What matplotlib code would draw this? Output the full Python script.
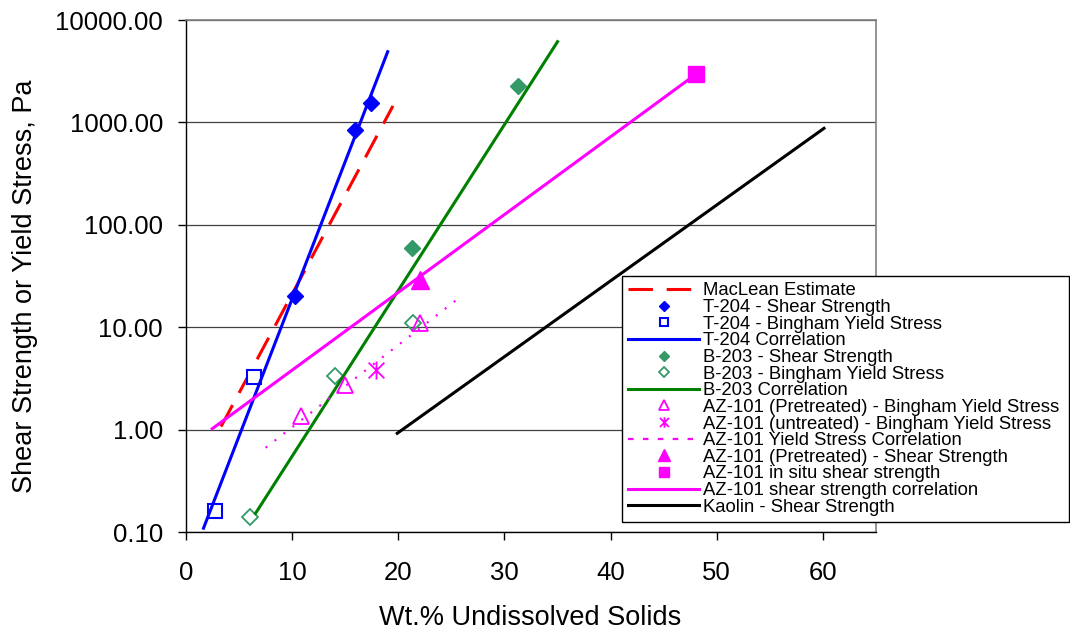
import matplotlib
matplotlib.use("Agg")
import matplotlib.pyplot as plt
from matplotlib.lines import Line2D
from matplotlib.path import Path
from matplotlib.ticker import FixedLocator, FuncFormatter, NullLocator

plt.rcParams['font.family'] = ['Liberation Sans', 'DejaVu Sans']

# ---------------- data ----------------
maclean_x = [3.3, 19.5]
maclean_y = [1.07, 1450]

t204_ss_x = [10.3, 15.9, 17.4]
t204_ss_y = [20, 843, 1550]
t204_by_x = [2.75, 6.45]
t204_by_y = [0.16, 3.3]
t204_corr_x = [1.65, 19.0]
t204_corr_y = [0.109, 4900]

b203_ss_x = [21.3, 31.3]
b203_ss_y = [60, 2260]
b203_by_x = [6.0, 14.0, 21.4]
b203_by_y = [0.14, 3.33, 11.1]
b203_corr_x = [6.55, 35.0]
b203_corr_y = [0.152, 6140]

az_pre_by_x = [10.8, 15.0, 22.0]
az_pre_by_y = [1.36, 2.73, 10.9]
az_un_by_x = [17.9]
az_un_by_y = [3.8]
az_ys_corr_x = [7.5, 26.0]
az_ys_corr_y = [0.665, 20.3]
az_pre_ss_x = [22.0]
az_pre_ss_y = [29]
az_insitu_x = [48.0]
az_insitu_y = [3000]
az_ss_corr_x = [2.47, 47.5]
az_ss_corr_y = [1.02, 2690]

kaolin_x = [19.9, 60.1]
kaolin_y = [0.92, 875]

y_ticks = [0.1, 1, 10, 100, 1000, 10000]
x_ticks = [0, 10, 20, 30, 40, 50, 60]

labels = [
    "MacLean Estimate",
    "T-204 - Shear Strength",
    "T-204 - Bingham Yield Stress",
    "T-204 Correlation",
    "B-203 - Shear Strength",
    "B-203 - Bingham Yield Stress",
    "B-203 Correlation",
    "AZ-101 (Pretreated) - Bingham Yield Stress",
    "AZ-101 (untreated) - Bingham Yield Stress",
    "AZ-101 Yield Stress Correlation",
    "AZ-101 (Pretreated) - Shear Strength",
    "AZ-101 in situ shear strength",
    "AZ-101 shear strength correlation",
    "Kaolin - Shear Strength",
]

# ---------------- style ----------------
BLUE = '#0000FF'
RED = '#FF0000'
GREEN = '#008000'
SEA = '#339966'
MAG = '#FF00FF'
BLACK = '#000000'

asterisk = Path([(-1, -1), (1, 1), (-1, 1), (1, -1), (0, -1.15), (0, 1.15)],
                [Path.MOVETO, Path.LINETO, Path.MOVETO, Path.LINETO, Path.MOVETO, Path.LINETO])

fig = plt.figure(figsize=(10.70, 6.29), dpi=100)
ax = fig.add_axes([186 / 1070, 1 - 532 / 629, 690 / 1070, 512 / 629])

LW = 2.2
ax.plot(maclean_x, maclean_y, color=RED, lw=LW, dashes=(8, 4.5), solid_capstyle='butt')
ax.plot(t204_ss_x, t204_ss_y, ls='none', marker='D', ms=8, mfc=BLUE, mec=BLUE, mew=1)
ax.plot(t204_by_x, t204_by_y, ls='none', marker='s', ms=10, mfc='white', mec=BLUE, mew=1.5)
ax.plot(t204_corr_x, t204_corr_y, color=BLUE, lw=LW)
ax.plot(b203_ss_x, b203_ss_y, ls='none', marker='D', ms=8, mfc=SEA, mec=SEA, mew=1)
ax.plot(b203_by_x, b203_by_y, ls='none', marker='D', ms=8, mfc='none', mec=SEA, mew=1.3)
ax.plot(b203_corr_x, b203_corr_y, color=GREEN, lw=LW)
ax.plot(az_pre_by_x, az_pre_by_y, ls='none', marker='^', ms=11.5, mfc='none', mec=MAG, mew=1.3)
ax.plot(az_un_by_x, az_un_by_y, ls='none', marker=asterisk, ms=13, mfc='none', mec=MAG, mew=1.3)
ax.plot(az_ys_corr_x, az_ys_corr_y, color=MAG, lw=1.6, dashes=(0.9, 4.2))
ax.plot(az_pre_ss_x, az_pre_ss_y, ls='none', marker='^', ms=12.5, mfc=MAG, mec=MAG, mew=1)
ax.plot(az_insitu_x, az_insitu_y, ls='none', marker='s', ms=11.5, mfc=MAG, mec=MAG, mew=1)
ax.plot(az_ss_corr_x, az_ss_corr_y, color=MAG, lw=LW)
ax.plot(kaolin_x, kaolin_y, color=BLACK, lw=LW)

ax.set_yscale('log')
ax.set_ylim(0.1, 10000)
ax.set_xlim(0, 65)
ax.yaxis.set_major_locator(FixedLocator(y_ticks))
ax.yaxis.set_minor_locator(NullLocator())
ax.yaxis.set_major_formatter(FuncFormatter(lambda v, p: f"{v:.2f}"))
ax.xaxis.set_major_locator(FixedLocator(x_ticks))
ax.xaxis.set_minor_locator(NullLocator())

ax.tick_params(axis='both', direction='out', length=5.8, width=1, color='black',
               labelsize=18.5, labelcolor='black')
ax.tick_params(axis='y', pad=10.8)
ax.tick_params(axis='x', pad=15)

ax.grid(axis='y', which='major', color='#404040', lw=0.9)
ax.set_axisbelow(True)
for s in ['top', 'right']:
    ax.spines[s].set_color('#808080')
    ax.spines[s].set_linewidth(1.2)
for s in ['left', 'bottom']:
    ax.spines[s].set_color('black')
    ax.spines[s].set_linewidth(1)

ax.set_xlabel("Wt.% Undissolved Solids", fontsize=19.5)
ax.xaxis.set_label_coords(0.499, (532 - 605) / 512)
ax.set_ylabel("Shear Strength or Yield Stress, Pa", fontsize=19.5)
ax.yaxis.set_label_coords((38 - 186) / 690, 0.48)

# legend proxies (smaller markers as in the reference legend)
h = [
    Line2D([], [], color=RED, lw=LW, dashes=(8, 4.5)),
    Line2D([], [], ls='none', marker='D', ms=5.5, mfc=BLUE, mec=BLUE),
    Line2D([], [], ls='none', marker='s', ms=6.3, mfc='white', mec=BLUE, mew=1.5),
    Line2D([], [], color=BLUE, lw=LW),
    Line2D([], [], ls='none', marker='D', ms=5.5, mfc=SEA, mec=SEA),
    Line2D([], [], ls='none', marker='D', ms=5.3, mfc='none', mec=SEA, mew=1.3),
    Line2D([], [], color=GREEN, lw=LW),
    Line2D([], [], ls='none', marker='^', ms=7.5, mfc='none', mec=MAG, mew=1.3),
    Line2D([], [], ls='none', marker=asterisk, ms=7.5, mfc='none', mec=MAG, mew=1.3),
    Line2D([], [], color=MAG, lw=1.6, dashes=(2.5, 4.2)),
    Line2D([], [], ls='none', marker='^', ms=8, mfc=MAG, mec=MAG),
    Line2D([], [], ls='none', marker='s', ms=6.8, mfc=MAG, mec=MAG),
    Line2D([], [], color=MAG, lw=LW),
    Line2D([], [], color=BLACK, lw=LW),
]
leg = fig.legend(h, labels, loc='upper left',
                 bbox_to_anchor=(622 / 1070, 1 - 276 / 629, 447 / 1070, 0.0),
                 mode='expand', ncol=1, fontsize=13.3, frameon=True, fancybox=False,
                 shadow=False, borderaxespad=0, borderpad=0.35, labelspacing=-0.02,
                 handlelength=3.8, handletextpad=0.25, handleheight=0.7)
leg.get_frame().set_edgecolor('black')
leg.get_frame().set_linewidth(1)
leg.get_frame().set_facecolor('white')
leg.get_frame().set_alpha(1)

fig.savefig("out.png", dpi=100)
